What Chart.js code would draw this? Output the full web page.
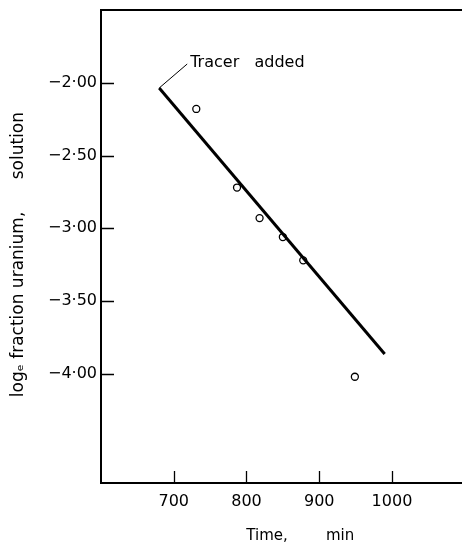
<!DOCTYPE html>
<html>
<head>
<meta charset="utf-8">
<script src="https://cdn.jsdelivr.net/npm/chart.js@4.4.1/dist/chart.umd.min.js"></script>
<style>
  html, body { margin: 0; padding: 0; background: #ffffff; }
  canvas { display: block; }
</style>
</head>
<body>
<canvas id="c" width="462" height="544"></canvas>
<script>
// Measured points
const timeValues = [731, 787, 818, 850, 878, 949];
const logFraction = [-2.18, -2.72, -2.93, -3.06, -3.22, -4.02];
// Fitted straight line (start = tracer added)
const fitLineTime = [680, 990];
const fitLineLog = [-2.036, -3.863];
// Axis ticks
const xTickValues = [700, 800, 900, 1000];
const xTickLabels = ['700', '800', '900', '1000'];
const yTickValues = [-2.0, -2.5, -3.0, -3.5, -4.0];
const yTickLabels = ['\u22122\u00b700', '\u22122\u00b750', '\u22123\u00b700', '\u22123\u00b750', '\u22124\u00b700'];
const annotationText = 'Tracer   added';

const FONT = 'DejaVu Sans';

const framePlugin = {
  id: 'frame',
  afterDraw(chart) {
    const ctx = chart.ctx;
    const a = chart.chartArea;
    const xs = chart.scales.x, ys = chart.scales.y;
    ctx.save();
    ctx.strokeStyle = '#000';
    ctx.lineWidth = 2;
    ctx.lineCap = 'square';
    ctx.beginPath();
    ctx.moveTo(chart.width + 2, a.top);
    ctx.lineTo(a.left, a.top);
    ctx.lineTo(a.left, a.bottom);
    ctx.lineTo(chart.width + 2, a.bottom);
    ctx.stroke();
    // inward tick marks
    ctx.lineWidth = 1.3;
    ctx.lineCap = 'butt';
    ctx.beginPath();
    yTickValues.forEach(v => {
      const py = Math.round(ys.getPixelForValue(v)) + 0.5;
      ctx.moveTo(a.left, py);
      ctx.lineTo(a.left + 13, py);
    });
    xTickValues.forEach(v => {
      const px = Math.round(xs.getPixelForValue(v)) + 0.5;
      ctx.moveTo(px, a.bottom);
      ctx.lineTo(px, a.bottom - 12);
    });
    ctx.stroke();
    // annotation leader + text
    const ax = xs.getPixelForValue(fitLineTime[0]);
    const ay = ys.getPixelForValue(fitLineLog[0]);
    ctx.lineWidth = 1;
    ctx.beginPath();
    ctx.moveTo(ax, ay);
    ctx.lineTo(ax + 28, ay - 24);
    ctx.stroke();
    ctx.fillStyle = '#000';
    ctx.font = '16px "' + FONT + '"';
    ctx.textBaseline = 'middle';
    ctx.textAlign = 'left';
    ctx.fillText(annotationText, ax + 31, ay - 25);
    ctx.restore();
  }
};

new Chart(document.getElementById('c'), {
  type: 'scatter',
  data: {
    datasets: [
      {
        data: fitLineTime.map((t, i) => ({ x: t, y: fitLineLog[i] })),
        showLine: true,
        borderColor: '#000',
        borderWidth: 3,
        pointRadius: 0,
        fill: false
      },
      {
        data: timeValues.map((t, i) => ({ x: t, y: logFraction[i] })),
        showLine: false,
        pointStyle: 'circle',
        pointRadius: 3.5,
        pointBorderWidth: 1.3,
        pointBorderColor: '#000',
        pointBackgroundColor: '#fff'
      }
    ]
  },
  options: {
    responsive: false,
    devicePixelRatio: 1,
    animation: false,
    layout: { padding: { top: 10, right: 0, left: 0, bottom: 0 } },
    plugins: { legend: { display: false }, tooltip: { enabled: false } },
    scales: {
      x: {
        type: 'linear',
        min: 600,
        max: 1089,
        grid: { display: false, drawTicks: false },
        border: { display: false },
        afterBuildTicks: s => { s.ticks = xTickValues.map(v => ({ value: v })); },
        afterFit: s => { s.height = 61; s.paddingLeft = 0; s.paddingRight = 0; },
        ticks: {
          color: '#000',
          font: { family: FONT, size: 16 },
          padding: 9,
          maxRotation: 0,
          callback: (v, i) => xTickLabels[i]
        },
        title: {
          display: true,
          text: '         Time,        min',
          color: '#000',
          font: { family: FONT, size: 15, lineHeight: 1 },
          padding: { top: 0, bottom: 0 }
        }
      },
      y: {
        type: 'linear',
        min: -4.75,
        max: -1.5,
        grid: { display: false, drawTicks: false },
        border: { display: false },
        afterBuildTicks: s => { s.ticks = yTickValues.map(v => ({ value: v })); },
        afterFit: s => { s.width = 101; s.paddingTop = 0; s.paddingBottom = 0; },
        ticks: {
          color: '#000',
          font: { family: FONT, size: 16 },
          padding: 4,
          callback: (v, i) => yTickLabels[i]
        },
        title: {
          display: true,
          text: 'log\u2091 fraction uranium,      solution   ',
          color: '#000',
          font: { family: FONT, size: 17 },
          padding: { top: 8, bottom: 0 }
        }
      }
    }
  },
  plugins: [framePlugin]
});
</script>
</body>
</html>
